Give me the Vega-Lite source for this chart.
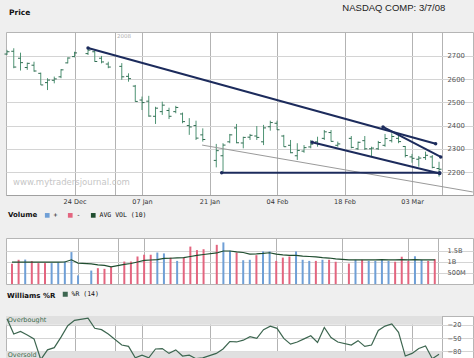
{
  "$schema": "https://vega.github.io/schema/vega-lite/v6.json",
  "background": "#efefef",
  "padding": {"left": 3, "right": 4, "top": 2, "bottom": 0},
  "title": {"text": "NASDAQ COMP: 3/7/08", "anchor": "end", "font": "Liberation Sans", "fontSize": 9.5, "fontWeight": "normal", "color": "#222", "dx": -30, "dy": 4, "offset": 0},
  "spacing": 4,
  "resolve": {"scale": {"color": "independent", "y": "independent", "x": "independent"}, "legend": {"color": "independent"}},
  "config": {
    "view": {"stroke": "#b5b5b5", "fill": "white"},
    "axis": {"labelOverlap": false}
  },
  "datasets": {
    "d": [
      {"i":0,"o":2708,"h":2726,"l":2704,"c":2718,"v":0.92,"d":"-","a":0.99,"w":-6},
      {"i":1,"o":2720,"h":2733,"l":2647,"c":2652,"v":1.10,"d":"-","a":0.99,"w":-41},
      {"i":2,"o":2690,"h":2714,"l":2637,"c":2671,"v":1.11,"d":"+","a":0.99,"w":-35},
      {"i":3,"o":2650,"h":2671,"l":2640,"c":2668,"v":1.04,"d":"-","a":0.99,"w":-43},
      {"i":4,"o":2660,"h":2675,"l":2632,"c":2635,"v":0.95,"d":"-","a":0.99,"w":-52},
      {"i":5,"o":2625,"h":2628,"l":2575,"c":2575,"v":0.95,"d":"-","a":0.99,"w":-99},
      {"i":6,"o":2585,"h":2604,"l":2553,"c":2596,"v":0.95,"d":"+","a":0.99,"w":-77},
      {"i":7,"o":2595,"h":2611,"l":2582,"c":2601,"v":0.98,"d":"+","a":0.99,"w":-72},
      {"i":8,"o":2610,"h":2643,"l":2604,"c":2640,"v":1.02,"d":"+","a":1.00,"w":-48},
      {"i":9,"o":2670,"h":2694,"l":2668,"c":2691,"v":1.45,"d":"+","a":1.10,"w":-22},
      {"i":10,"o":2697,"h":2718,"l":2694,"c":2713,"v":0.39,"d":"+","a":0.95,"w":-10},
      {"i":12,"o":2710,"h":2737,"l":2704,"c":2725,"v":0.61,"d":"+","a":0.91,"w":-5},
      {"i":13,"o":2718,"h":2723,"l":2675,"c":2676,"v":0.72,"d":"-","a":0.87,"w":-28},
      {"i":14,"o":2690,"h":2700,"l":2668,"c":2674,"v":0.69,"d":"-","a":0.85,"w":-31},
      {"i":15,"o":2665,"h":2675,"l":2647,"c":2652,"v":0.77,"d":"-","a":0.78,"w":-41},
      {"i":17,"o":2655,"h":2669,"l":2597,"c":2610,"v":1.02,"d":"-","a":0.89,"w":-66},
      {"i":18,"o":2612,"h":2625,"l":2589,"c":2602,"v":1.02,"d":"-","a":0.93,"w":-69},
      {"i":19,"o":2570,"h":2575,"l":2503,"c":2504,"v":1.25,"d":"-","a":1.00,"w":-95},
      {"i":20,"o":2510,"h":2525,"l":2467,"c":2499,"v":1.33,"d":"-","a":1.07,"w":-89},
      {"i":21,"o":2505,"h":2528,"l":2438,"c":2441,"v":1.33,"d":"-","a":1.09,"w":-95},
      {"i":22,"o":2440,"h":2481,"l":2407,"c":2475,"v":1.43,"d":"+","a":1.11,"w":-75},
      {"i":23,"o":2460,"h":2503,"l":2446,"c":2488,"v":1.39,"d":"+","a":1.16,"w":-74},
      {"i":24,"o":2465,"h":2477,"l":2428,"c":2440,"v":1.20,"d":"-","a":1.17,"w":-85},
      {"i":25,"o":2460,"h":2485,"l":2453,"c":2478,"v":1.05,"d":"+","a":1.19,"w":-77},
      {"i":26,"o":2450,"h":2456,"l":2410,"c":2417,"v":1.20,"d":"-","a":1.20,"w":-91},
      {"i":27,"o":2400,"h":2432,"l":2360,"c":2394,"v":1.70,"d":"-","a":1.25,"w":-89},
      {"i":28,"o":2400,"h":2421,"l":2338,"c":2346,"v":1.54,"d":"-","a":1.30,"w":-97},
      {"i":29,"o":2360,"h":2388,"l":2331,"c":2340,"v":1.58,"d":"-","a":1.34,"w":-95},
      {"i":31,"o":2250,"h":2321,"l":2220,"c":2292,"v":1.78,"d":"-","a":1.41,"w":-85},
      {"i":32,"o":2270,"h":2324,"l":2196,"c":2316,"v":1.89,"d":"+","a":1.50,"w":-75},
      {"i":33,"o":2330,"h":2364,"l":2324,"c":2360,"v":1.51,"d":"+","a":1.50,"w":-58},
      {"i":34,"o":2390,"h":2407,"l":2324,"c":2326,"v":1.43,"d":"-","a":1.46,"w":-59},
      {"i":35,"o":2325,"h":2352,"l":2302,"c":2349,"v":1.08,"d":"+","a":1.43,"w":-55},
      {"i":36,"o":2350,"h":2364,"l":2338,"c":2358,"v":1.10,"d":"+","a":1.36,"w":-47},
      {"i":37,"o":2355,"h":2398,"l":2338,"c":2349,"v":1.31,"d":"-","a":1.37,"w":-51},
      {"i":38,"o":2330,"h":2403,"l":2316,"c":2390,"v":1.48,"d":"+","a":1.39,"w":-31},
      {"i":39,"o":2395,"h":2421,"l":2378,"c":2413,"v":1.48,"d":"+","a":1.42,"w":-23},
      {"i":40,"o":2410,"h":2421,"l":2381,"c":2382,"v":1.05,"d":"-","a":1.36,"w":-28},
      {"i":41,"o":2355,"h":2360,"l":2309,"c":2309,"v":1.20,"d":"-","a":1.32,"w":-51},
      {"i":42,"o":2315,"h":2338,"l":2281,"c":2283,"v":1.25,"d":"-","a":1.30,"w":-64},
      {"i":43,"o":2270,"h":2324,"l":2252,"c":2293,"v":1.48,"d":"+","a":1.30,"w":-59},
      {"i":44,"o":2290,"h":2316,"l":2283,"c":2305,"v":1.10,"d":"+","a":1.27,"w":-52},
      {"i":45,"o":2308,"h":2338,"l":2302,"c":2320,"v":1.05,"d":"+","a":1.25,"w":-45},
      {"i":46,"o":2330,"h":2352,"l":2309,"c":2320,"v":1.05,"d":"-","a":1.23,"w":-60},
      {"i":47,"o":2345,"h":2381,"l":2338,"c":2373,"v":1.10,"d":"+","a":1.20,"w":-26},
      {"i":48,"o":2370,"h":2381,"l":2331,"c":2332,"v":1.10,"d":"-","a":1.18,"w":-49},
      {"i":49,"o":2315,"h":2331,"l":2309,"c":2321,"v":1.01,"d":"-","a":1.14,"w":-59},
      {"i":51,"o":2345,"h":2355,"l":2302,"c":2306,"v":0.93,"d":"-","a":1.10,"w":-66},
      {"i":52,"o":2300,"h":2331,"l":2295,"c":2328,"v":1.10,"d":"+","a":1.10,"w":-56},
      {"i":53,"o":2335,"h":2355,"l":2295,"c":2300,"v":1.10,"d":"-","a":1.10,"w":-69},
      {"i":54,"o":2300,"h":2309,"l":2266,"c":2303,"v":1.05,"d":"+","a":1.10,"w":-66},
      {"i":55,"o":2300,"h":2334,"l":2295,"c":2327,"v":1.05,"d":"+","a":1.10,"w":-33},
      {"i":56,"o":2315,"h":2364,"l":2309,"c":2344,"v":1.10,"d":"+","a":1.11,"w":-23},
      {"i":57,"o":2335,"h":2367,"l":2327,"c":2353,"v":1.05,"d":"+","a":1.10,"w":-18},
      {"i":58,"o":2345,"h":2360,"l":2324,"c":2331,"v":1.01,"d":"-","a":1.10,"w":-37},
      {"i":59,"o":2310,"h":2312,"l":2263,"c":2271,"v":1.24,"d":"-","a":1.11,"w":-91},
      {"i":60,"o":2265,"h":2278,"l":2240,"c":2259,"v":1.05,"d":"-","a":1.10,"w":-85},
      {"i":61,"o":2255,"h":2269,"l":2223,"c":2260,"v":1.26,"d":"+","a":1.11,"w":-74},
      {"i":62,"o":2262,"h":2288,"l":2252,"c":2272,"v":1.10,"d":"+","a":1.10,"w":-68},
      {"i":63,"o":2265,"h":2273,"l":2216,"c":2220,"v":1.05,"d":"-","a":1.10,"w":-97},
      {"i":64,"o":2215,"h":2244,"l":2180,"c":2212,"v":1.13,"d":"-","a":1.10,"w":-87}
    ],
    "tl": [
      {"g":"A","i":12,"p":2734},{"g":"A","i":63.5,"p":2322},
      {"g":"B","i":55.7,"p":2394},{"g":"B","i":64.25,"p":2265},
      {"g":"C","i":45.2,"p":2328},{"g":"C","i":64.1,"p":2194},
      {"g":"D","i":31.8,"p":2197},{"g":"D","i":64.1,"p":2197},
      {"g":"E","i":28.9,"p":2316},{"g":"E","i":69,"p":2114}
    ],
    "bands": [
      {"top":0,"bot":-20,"name":"Overbought"},
      {"top":-80,"bot":-100,"name":"Oversold"}
    ]
  },
  "vconcat": [
    {
      "width": 467,
      "height": 163,
      "title": {"text": "Price", "anchor": "start", "font": "DejaVu Sans", "fontSize": 7.5, "fontWeight": "bold", "color": "#111", "dx": 5, "dy": -16, "offset": 0},
      "layer": [
        {"data": {"name": "d"},
         "mark": {"type": "rule", "color": "#4f9474", "strokeWidth": 1},
         "encoding": {
           "x": {"field": "i", "type": "quantitative", "scale": {"domain": [-0.15, 69.03], "nice": false, "zero": false},
             "axis": {"title": null, "values": [10,16,20,30,40,50,60,64.44], "tickCount": 20, "labelExpr": "datum.value == 10 ? '24 Dec' : datum.value == 20 ? '07 Jan' : datum.value == 30 ? '21 Jan' : datum.value == 40 ? '04 Feb' : datum.value == 50 ? '18 Feb' : datum.value == 60 ? '03 Mar' : ''", "grid": true, "gridColor": "#b3b3b3", "ticks": false, "labelPadding": 3, "labelOverlap": false, "domain": true, "domainColor": "#a0a0a0", "labelFont": "DejaVu Sans", "labelFontSize": 6.5, "labelColor": "#333"}},
           "y": {"field": "l", "type": "quantitative", "scale": {"domain": [2101, 2803], "nice": false, "zero": false},
             "axis": {"title": null, "orient": "right", "offset": -31, "values": [2200,2300,2400,2500,2600,2700], "tickCount": 20, "format": "d", "labelOverlap": false, "grid": true, "gridColor": "#d4d4d4", "ticks": false, "domain": false, "labelPadding": 5, "labelFont": "DejaVu Sans", "labelFontSize": 6.8, "labelColor": "#555"}},
           "y2": {"field": "h"}}},
        {"data": {"name": "d"},
         "mark": {"type": "rule", "color": "#2f6a50", "strokeWidth": 1, "xOffset": -2.5},
         "encoding": {"x": {"field": "i", "type": "quantitative"}, "x2": {"field": "i"}, "y": {"field": "o", "type": "quantitative"}}},
        {"data": {"name": "d"},
         "mark": {"type": "rule", "color": "#2f6a50", "strokeWidth": 1, "x2Offset": 2.5},
         "encoding": {"x": {"field": "i", "type": "quantitative"}, "x2": {"field": "i"}, "y": {"field": "c", "type": "quantitative"}}},
        {"data": {"name": "tl"}, "transform": [{"filter": "datum.g == 'E'"}],
         "mark": {"type": "line", "color": "#9a9a9a", "strokeWidth": 1},
         "encoding": {"x": {"field": "i", "type": "quantitative"}, "y": {"field": "p", "type": "quantitative"}}},
        {"data": {"name": "tl"}, "transform": [{"filter": "datum.g != 'E'"}],
         "mark": {"type": "line", "color": "#1c2b5c", "strokeWidth": 2},
         "encoding": {"x": {"field": "i", "type": "quantitative"}, "y": {"field": "p", "type": "quantitative"}, "detail": {"field": "g"}}},
        {"data": {"name": "tl"}, "transform": [{"filter": "datum.g != 'E'"}],
         "mark": {"type": "point", "filled": true, "size": 12, "color": "#1c2b5c", "opacity": 1},
         "encoding": {"x": {"field": "i", "type": "quantitative"}, "y": {"field": "p", "type": "quantitative"}}},
        {"data": {"values": [{"t": "www.mytradersjournal.com"}]},
         "mark": {"type": "text", "align": "left", "baseline": "middle", "font": "DejaVu Sans", "fontSize": 8.5, "color": "#c6c6c6"},
         "encoding": {"x": {"datum": 0.9}, "y": {"datum": 2157}, "text": {"field": "t"}}},
        {"data": {"values": [{"t": "2008"}]},
         "mark": {"type": "text", "align": "left", "baseline": "middle", "font": "DejaVu Sans", "fontSize": 5.5, "color": "#b0b0b0"},
         "encoding": {"x": {"datum": 16.3}, "y": {"datum": 2786}, "text": {"field": "t"}}}
      ]
    },
    {
      "width": 467,
      "height": 46,
      "data": {"name": "d"},
      "layer": [
        {"mark": {"type": "bar", "size": 2, "orient": "vertical"},
         "encoding": {
           "x": {"field": "i", "type": "quantitative", "scale": {"domain": [-0.15, 69.03], "nice": false, "zero": false},
             "axis": {"title": null, "values": [10,16,20,30,40,50,60,64.44], "tickCount": 20, "labels": false, "ticks": false, "grid": true, "gridColor": "#b3b3b3", "domain": false}},
           "y": {"field": "v", "type": "quantitative", "stack": null, "scale": {"domain": [0, 2.09], "nice": false, "zero": true},
             "axis": {"title": null, "orient": "right", "offset": -31, "values": [0.5, 1, 1.5], "tickCount": 20, "labelExpr": "datum.value >= 1 ? datum.value + 'B' : (datum.value * 1000) + 'M'", "labelOverlap": false, "grid": true, "gridColor": "#d4d4d4", "ticks": false, "domain": false, "labelPadding": 5, "labelFont": "DejaVu Sans", "labelFontSize": 6.6, "labelColor": "#555"}},
           "color": {"field": "d", "type": "nominal", "scale": {"domain": ["+", "-", "AVG VOL (10)"], "range": ["#6f9fd6", "#e3657f", "#1f4d2f"]},
             "legend": {"title": "Volume", "orient": "top", "direction": "horizontal", "titleOrient": "left", "titleFont": "DejaVu Sans", "titleFontSize": 7, "titleFontWeight": "bold", "titleColor": "#111", "titlePadding": 6, "labelFont": "DejaVu Sans Mono", "labelFontSize": 6.5, "labelColor": "#111", "labelOffset": 3, "symbolType": "square", "symbolSize": 22, "symbolStrokeWidth": 0, "columnPadding": 9, "offset": 17, "padding": 2}}}},
        {"mark": {"type": "line", "strokeWidth": 1.2},
         "encoding": {"x": {"field": "i", "type": "quantitative"}, "y": {"field": "a", "type": "quantitative"}, "color": {"datum": "AVG VOL (10)", "legend": null}}}
      ]
    },
    {
      "width": 467,
      "height": 44,
      "layer": [
        {"data": {"name": "bands"},
         "mark": {"type": "rect", "color": "#e0e0e0"},
         "encoding": {"x": {"datum": -0.15}, "x2": {"datum": 64.44}, "y": {"field": "top", "type": "quantitative"}, "y2": {"field": "bot"}}},
        {"data": {"name": "d"},
         "mark": {"type": "line", "strokeWidth": 1.2},
         "encoding": {
           "x": {"field": "i", "type": "quantitative", "scale": {"domain": [-0.15, 69.03], "nice": false, "zero": false},
             "axis": {"title": null, "values": [10,16,20,30,40,50,60,64.44], "tickCount": 20, "labels": false, "ticks": false, "grid": true, "gridColor": "#b3b3b3", "domain": false}},
           "y": {"field": "w", "type": "quantitative", "scale": {"domain": [-100, 0], "nice": false},
             "axis": {"title": null, "orient": "right", "offset": -31, "values": [-20, -50, -80], "tickCount": 20, "labelOverlap": false, "grid": true, "gridColor": "#d4d4d4", "ticks": false, "domain": false, "labelPadding": 5, "labelFont": "DejaVu Sans", "labelFontSize": 6.6, "labelColor": "#555"}},
           "color": {"datum": "%R (14)", "scale": {"domain": ["%R (14)"], "range": ["#3d6650"]},
             "legend": {"title": "Williams %R", "orient": "top", "direction": "horizontal", "titleOrient": "left", "titleFont": "DejaVu Sans", "titleFontSize": 7, "titleFontWeight": "bold", "titleColor": "#111", "titlePadding": 6, "labelFont": "DejaVu Sans Mono", "labelFontSize": 6.5, "labelColor": "#111", "labelOffset": 3, "symbolType": "square", "symbolSize": 4, "symbolStrokeWidth": 3, "offset": 13, "padding": 1}}}},
        {"data": {"name": "bands"},
         "mark": {"type": "text", "align": "left", "baseline": "top", "dy": 1, "font": "DejaVu Sans", "fontSize": 6.5, "color": "#3d6b4d"},
         "encoding": {"x": {"datum": 0.1}, "y": {"field": "top", "type": "quantitative"}, "text": {"field": "name"}}}
      ]
    }
  ]
}
